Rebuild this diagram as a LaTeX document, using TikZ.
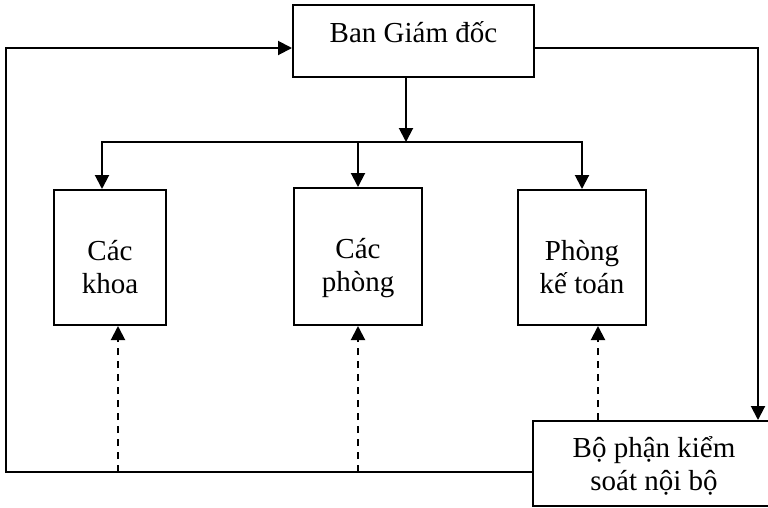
\documentclass[tikz,border=0pt]{standalone}
\usepackage{fontspec}
\setmainfont{Liberation Serif}
\usetikzlibrary{arrows.meta}
\begin{document}
\begin{tikzpicture}[x=1pt,y=-1pt,
  line width=2pt,
  unit box/.style={draw,rectangle,inner sep=0pt,align=center,
    font=\fontsize{29}{33.5}\selectfont},
  arr/.style={-{Triangle[length=14pt,width=14pt]}},
  ctrl/.style={arr,dash pattern=on 7pt off 6pt}]

  \useasboundingbox (0,0) rectangle (768,507);

  \node[unit box,minimum width=241pt,minimum height=72pt] (bgd) at (413.5,41)
    {\raisebox{5pt}[\height][\depth]{\begin{tabular}{@{}c@{}}Ban Giám đốc\end{tabular}}};
  \node[unit box,minimum width=112pt,minimum height=135pt] (khoa) at (110,257.5)
    {\raisebox{-13pt}[\height][\depth]{\begin{tabular}{@{}c@{}}Các\\khoa\end{tabular}}};
  \node[unit box,minimum width=128pt,minimum height=137pt] (phong) at (358,256.5)
    {\raisebox{-12pt}[\height][\depth]{\begin{tabular}{@{}c@{}}Các\\phòng\end{tabular}}};
  \node[unit box,minimum width=128pt,minimum height=135pt] (ketoan) at (582,257.5)
    {\raisebox{-13pt}[\height][\depth]{\begin{tabular}{@{}c@{}}Phòng\\kế toán\end{tabular}}};
  \node[unit box,minimum width=242pt,minimum height=85pt] (kiemsoat) at (654,463.5)
    {\raisebox{-4pt}[\height][\depth]{\begin{tabular}{@{}c@{}}Bộ phận kiểm\\soát nội bộ\end{tabular}}};

  \coordinate (split) at (406,142);
  \coordinate (corner) at (6,472);
  \coordinate (rcol) at (758,48);

  % top-down lines
  \draw[arr] (bgd.south -| split) -- (split);
  \draw[arr] (split) -| ([xshift=-8pt]khoa.north);
  \draw[arr] (split) -| (phong.north);
  \draw[arr] (split) -| (ketoan.north);
  \draw[arr] ([yshift=-7pt]bgd.east) -- (rcol) -- (rcol |- kiemsoat.north);

  % reporting loop
  \draw[arr] (kiemsoat.west |- corner) -- (corner) |- ([yshift=-7pt]bgd.west);

  % control lines
  \draw[ctrl] ([xshift=8pt]khoa.south |- corner) -- ([xshift=8pt]khoa.south);
  \draw[ctrl] (phong.south |- corner) -- (phong.south);
  \draw[ctrl] ([xshift=16pt]ketoan.south |- kiemsoat.north) -- ([xshift=16pt]ketoan.south);
\end{tikzpicture}
\end{document}
